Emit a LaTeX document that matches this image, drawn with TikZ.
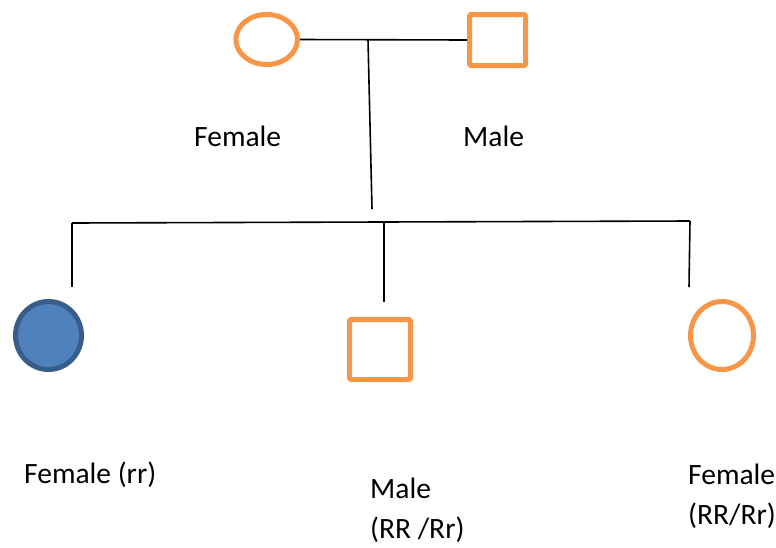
\documentclass[tikz,border=0pt]{standalone}
\usepackage{fontspec}
\setmainfont{Carlito}
\usetikzlibrary{shapes.geometric}
\definecolor{pedorange}{HTML}{F79646}
\definecolor{pedblue}{HTML}{4F81BD}
\definecolor{pedblueline}{HTML}{385D8A}
\tikzset{
  femalebox/.style={ellipse, draw=pedorange, line width=5pt, inner sep=0pt, fill=white},
  malebox/.style={rectangle, draw=pedorange, line width=5pt, inner sep=0pt, rounded corners=1.5pt, fill=white},
  affected/.style={ellipse, draw=pedblueline, line width=5pt, inner sep=0pt, fill=pedblue},
  link/.style={draw=black, line width=1.6pt},
  lbl/.style={inner sep=0pt, anchor=base west, font=\fontsize{29.5}{36}\selectfont}
}
\begin{document}
\begin{tikzpicture}[x=1pt,y=-1pt]
\useasboundingbox (0,0) rectangle (776,547);
% parents
\node[femalebox, minimum width=61.6pt, minimum height=50pt] (mother) at (266.7,39.5) {};
\node[malebox, minimum width=56pt, minimum height=51pt] (father) at (497.5,40) {};
% children
\node[affected, minimum width=66pt, minimum height=68pt] (child1) at (48.5,335.5) {};
\node[malebox, minimum width=61pt, minimum height=60pt] (child2) at (380,349.5) {};
\node[femalebox, minimum width=63pt, minimum height=68pt] (child3) at (722,335.5) {};
% connectors
\coordinate (j1) at (368,39.7);
\coordinate (j2) at (372,209);
\coordinate (s1) at (72,223);
\coordinate (s2) at (384,222);
\coordinate (s3) at (690,221);
\coordinate (d1) at (72,287);
\coordinate (d2) at (384,302);
\coordinate (d3) at (689,287);
\draw[link] (mother.east) -- (father.west);
\draw[link] (j1) -- (j2);
\draw[link] (s1) -- (s3);
\draw[link] (s1) -- (d1);
\draw[link] (s2) -- (d2);
\draw[link] (s3) -- (d3);
% labels
\node[lbl] (lmother) at (194,146) {Female};
\node[lbl] (lfather) at (463,146) {Male};
\node[lbl] (lc1) at (24,483) {Female (rr)};
\node[lbl] (lc2a) at (370,498) {Male};
\node[lbl] (lc2b) at (370,538) {(RR /Rr)};
\node[lbl] (lc3a) at (688,484) {Female};
\node[lbl] (lc3b) at (688,524) {(RR/Rr)};
\end{tikzpicture}
\end{document}
